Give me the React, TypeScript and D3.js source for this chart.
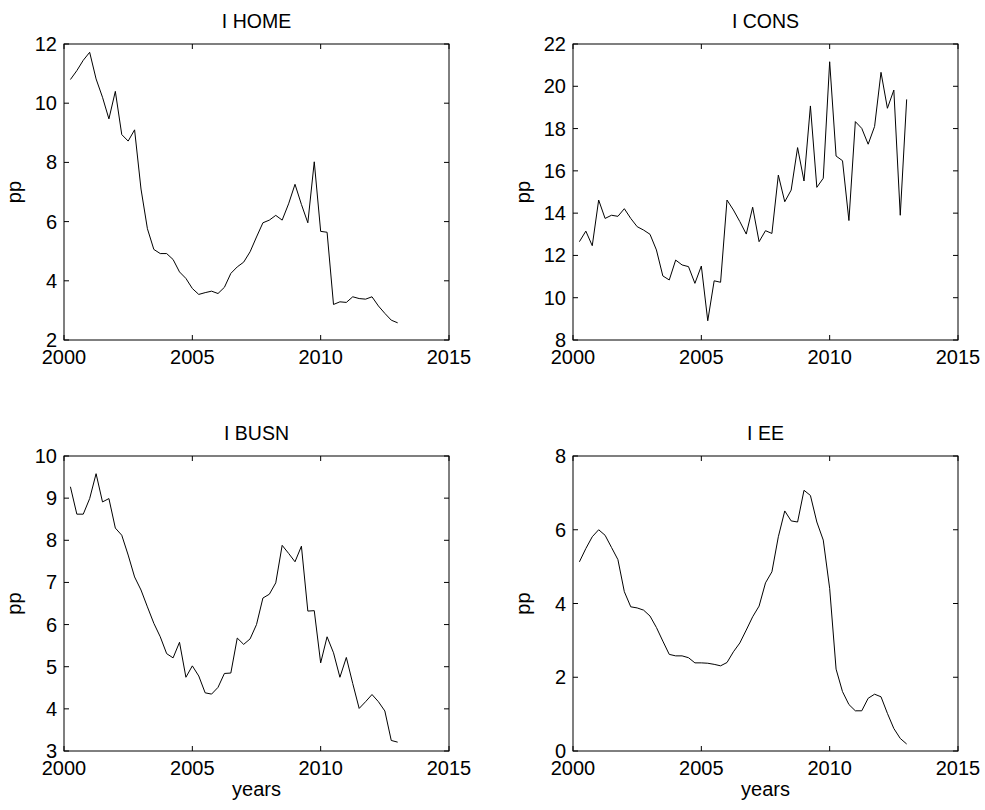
import React from "react";
import * as d3 from "d3";

const quarters: number[] = [
  2000.25, 2000.5, 2000.75, 2001, 2001.25, 2001.5, 2001.75, 2002, 2002.25, 2002.5, 2002.75, 2003,
  2003.25, 2003.5, 2003.75, 2004, 2004.25, 2004.5, 2004.75, 2005, 2005.25, 2005.5, 2005.75, 2006,
  2006.25, 2006.5, 2006.75, 2007, 2007.25, 2007.5, 2007.75, 2008, 2008.25, 2008.5, 2008.75, 2009,
  2009.25, 2009.5, 2009.75, 2010, 2010.25, 2010.5, 2010.75, 2011, 2011.25, 2011.5, 2011.75, 2012,
  2012.25, 2012.5, 2012.75, 2013,
];

const iHome: number[] = [
  10.8, 11.1, 11.45, 11.72, 10.82, 10.2, 9.47, 10.4, 8.94, 8.72, 9.1, 7.1,
  5.76, 5.06, 4.92, 4.92, 4.72, 4.3, 4.08, 3.74, 3.54, 3.6, 3.65, 3.57,
  3.78, 4.25, 4.47, 4.63, 4.98, 5.48, 5.96, 6.05, 6.21, 6.05, 6.6, 7.26,
  6.58, 5.96, 8.02, 5.67, 5.64, 3.2, 3.29, 3.27, 3.46, 3.4, 3.38, 3.46,
  3.15, 2.9, 2.67, 2.58,
];

const iCons: number[] = [
  12.65, 13.15, 12.46, 14.62, 13.75, 13.9, 13.85, 14.21, 13.75, 13.36, 13.2, 13.0,
  12.26, 11.03, 10.84, 11.78, 11.55, 11.47, 10.68, 11.5, 8.91, 10.8, 10.73, 14.62,
  14.15, 13.6, 13.01, 14.28, 12.65, 13.17, 13.04, 15.8, 14.54, 15.09, 17.1, 15.52,
  19.07, 15.22, 15.65, 21.16, 16.7, 16.48, 13.65, 18.33, 18.01, 17.26, 18.1, 20.66,
  18.96, 19.82, 13.9, 19.38,
];

const iBusn: number[] = [
  9.27, 8.62, 8.62, 8.99, 9.58, 8.91, 8.99, 8.29, 8.12, 7.65, 7.13, 6.82,
  6.42, 6.03, 5.71, 5.31, 5.21, 5.58, 4.75, 5.02, 4.78, 4.38, 4.35, 4.51,
  4.84, 4.85, 5.68, 5.53, 5.66, 6.0, 6.63, 6.72, 6.99, 7.88, 7.69, 7.49,
  7.86, 6.32, 6.33, 5.09, 5.71, 5.33, 4.75, 5.22, 4.6, 4.01, 4.17, 4.34,
  4.17, 3.95, 3.25, 3.21,
];

const iEE: number[] = [
  5.13, 5.49, 5.81, 6.0, 5.85, 5.52, 5.19, 4.32, 3.91, 3.88, 3.82, 3.66,
  3.35, 2.98, 2.62, 2.58, 2.58, 2.53, 2.39, 2.39, 2.38, 2.35, 2.31, 2.4,
  2.69, 2.93, 3.28, 3.64, 3.93, 4.56, 4.86, 5.81, 6.51, 6.24, 6.21, 7.07,
  6.93, 6.21, 5.72, 4.41, 2.22, 1.61, 1.26, 1.09, 1.09, 1.43, 1.54, 1.47,
  1.02, 0.61, 0.34, 0.19,
];

const xTicks: number[] = [2000, 2005, 2010, 2015];
const yTicksHome: number[] = [2, 4, 6, 8, 10, 12];
const yTicksCons: number[] = [8, 10, 12, 14, 16, 18, 20, 22];
const yTicksBusn: number[] = [3, 4, 5, 6, 7, 8, 9, 10];
const yTicksEE: number[] = [0, 2, 4, 6, 8];

const titles: string[] = ["I HOME", "I CONS", "I BUSN", "I EE"];
const yLabel = "pp";
const xLabel = "years";

const FONT = "'Liberation Sans', Arial, Helvetica, sans-serif";

type PanelProps = {
  title: string;
  values: number[];
  yTicks: number[];
  left: number;
  right: number;
  top: number;
  bottom: number;
  showXLabel: boolean;
};

function Panel({ title, values, yTicks, left, right, top, bottom, showXLabel }: PanelProps) {
  const x = d3.scaleLinear().domain([xTicks[0], xTicks[xTicks.length - 1]]).range([left, right]);
  const y = d3.scaleLinear().domain([yTicks[0], yTicks[yTicks.length - 1]]).range([bottom, top]);
  const line = d3
    .line<number>()
    .x((_, i) => x(quarters[i]))
    .y((d) => y(d));
  const tl = 5;
  return (
    <g>
      <path d={line(values) || ""} fill="none" stroke="#000" strokeWidth={1} />
      <rect x={left} y={top} width={right - left} height={bottom - top} fill="none" stroke="#000" strokeWidth={1} />
      {xTicks.map((t) => (
        <g key={"x" + t}>
          <line x1={x(t)} x2={x(t)} y1={bottom} y2={bottom - tl} stroke="#000" />
          <line x1={x(t)} x2={x(t)} y1={top} y2={top + tl} stroke="#000" />
          <text x={x(t)} y={bottom + 24} textAnchor="middle" fontSize={20} fontFamily={FONT} fill="#000">
            {t}
          </text>
        </g>
      ))}
      {yTicks.map((t) => (
        <g key={"y" + t}>
          <line x1={left} x2={left + tl} y1={y(t)} y2={y(t)} stroke="#000" />
          <line x1={right} x2={right - tl} y1={y(t)} y2={y(t)} stroke="#000" />
          <text x={left - 7} y={y(t) + 7} textAnchor="end" fontSize={20} fontFamily={FONT} fill="#000">
            {t}
          </text>
        </g>
      ))}
      <text x={(left + right) / 2} y={top - 16} textAnchor="middle" fontSize={19.5} fontFamily={FONT} fill="#000">
        {title}
      </text>
      <text
        transform={`translate(${left - 43},${(top + bottom) / 2}) rotate(-90)`}
        textAnchor="middle"
        fontSize={20}
        fontFamily={FONT}
        fill="#000"
      >
        {yLabel}
      </text>
      {showXLabel && (
        <text x={(left + right) / 2} y={bottom + 45} textAnchor="middle" fontSize={20} fontFamily={FONT} fill="#000">
          {xLabel}
        </text>
      )}
    </g>
  );
}

export default function App() {
  const cols = [
    [64, 449],
    [573, 958],
  ];
  const rows = [
    [44, 340],
    [456, 751],
  ];
  const series = [iHome, iCons, iBusn, iEE];
  const yt = [yTicksHome, yTicksCons, yTicksBusn, yTicksEE];
  return (
    <svg
      width={985}
      height={810}
      style={{ position: "absolute", left: 0, top: 0, background: "#fff" }}
    >
      <rect x={0} y={0} width={985} height={810} fill="#fff" />
      {series.map((s, i) => {
        const c = cols[i % 2];
        const r = rows[Math.floor(i / 2)];
        return (
          <Panel
            key={titles[i]}
            title={titles[i]}
            values={s}
            yTicks={yt[i]}
            left={c[0]}
            right={c[1]}
            top={r[0]}
            bottom={r[1]}
            showXLabel={i >= 2}
          />
        );
      })}
    </svg>
  );
}
